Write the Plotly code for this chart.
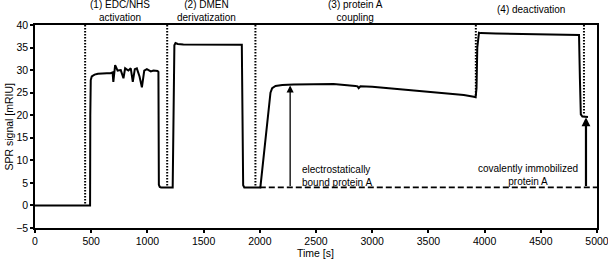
import plotly.graph_objects as go

# ---- data ----
time_s = [0, 490, 492, 496, 505, 530, 560, 600, 640, 672, 690, 697, 705, 713, 735,
          763, 787, 802, 831, 852, 870, 888, 906, 930, 951, 972, 995, 1030, 1054,
          1090, 1098, 1102, 1110, 1122, 1225, 1232, 1240, 1250, 1270, 1320, 1500,
          1700, 1840, 1846, 1852, 1862, 2005, 2095, 2110, 2140, 2200, 2300, 2500,
          2656, 2850, 2870, 2880, 2895, 3000, 3253, 3500, 3700, 3815, 3904, 3920,
          3928, 3935, 3950, 3965, 4100, 4400, 4700, 4840, 4848, 4856, 4870, 4920]
signal = [0.0, 0.0, 20.0, 27.8, 28.6, 29.0, 29.2, 29.3, 29.3, 29.3, 29.5, 27.4,
          30.4, 31.1, 29.9, 30.0, 28.2, 30.4, 29.9, 30.4, 27.4, 30.2, 30.4, 28.6,
          26.2, 29.9, 30.2, 29.7, 29.9, 29.8, 29.6, 4.6, 4.1, 4.0, 4.0, 20.0, 35.5,
          36.0, 35.8, 35.7, 35.7, 35.6, 35.6, 20.0, 4.5, 4.0, 4.0, 25.0, 26.0, 26.5,
          26.7, 26.8, 26.9, 26.9, 26.5, 26.4, 26.0, 26.4, 26.3, 25.7, 25.2, 24.8,
          24.5, 24.1, 24.0, 26.0, 35.0, 38.3, 38.2, 38.1, 38.0, 37.9, 37.8, 28.0,
          20.2, 19.7, 19.6]

baseline_level = 4.0
baseline_t = [2000, 5000]

step_times = [446, 1176, 1961, 3922, 4884]
step_bottoms = [0.0, 4.0, 4.0, 24.0, 20.0]

step_labels = ["(1) EDC/NHS<br>activation", "(2) DMEN<br>derivatization",
               "(3) protein A<br>coupling", "(4) deactivation"]
step_label_x = [757, 1530, 2850, 4410]

arrow_x = [2270, 4902]
arrow_top = [26.6, 19.5]

FONT = "Liberation Sans, Arial, sans-serif"

fig = go.Figure()

# dotted step markers
for tx, yb in zip(step_times, step_bottoms):
    fig.add_trace(go.Scatter(x=[tx, tx], y=[40, yb], mode="lines",
                             line=dict(color="black", width=2, dash="1.5px,1.5px"),
                             hoverinfo="skip", showlegend=False))

# dashed baseline
fig.add_trace(go.Scatter(x=baseline_t, y=[baseline_level, baseline_level], mode="lines",
                         line=dict(color="black", width=1.6, dash="6px,3px"),
                         hoverinfo="skip", showlegend=False))

# SPR signal
fig.add_trace(go.Scatter(x=time_s, y=signal, mode="lines",
                         line=dict(color="black", width=2),
                         showlegend=False))

annotations = []
# arrows
for ax_, top, w in zip(arrow_x, arrow_top, [1.3, 2.2]):
    annotations.append(dict(x=ax_, y=top, ax=ax_, ay=baseline_level,
                            xref="x", yref="y", axref="x", ayref="y",
                            showarrow=True, arrowhead=2, arrowsize=1.1 if w < 2 else 0.8,
                            arrowwidth=w, arrowcolor="black", text=""))

# step labels (top)
for txt, lx in zip(step_labels, step_label_x):
    two = "<br>" in txt
    annotations.append(dict(x=lx, y=(228 - (11 if two else 9)) / 203, xref="x", yref="paper",
                            text=txt, showarrow=False, xanchor="center", yanchor="middle",
                            font=dict(family=FONT, size=10, color="black")))

annotations.append(dict(x=2360, y=6.5, xref="x", yref="y",
                        text="electrostatically<br>bound protein A", showarrow=False,
                        xanchor="left", yanchor="middle", align="left",
                        font=dict(family=FONT, size=10, color="black")))
annotations.append(dict(x=4385, y=6.85, xref="x", yref="y",
                        text="covalently immobilized<br>protein A", showarrow=False,
                        xanchor="center", yanchor="middle", align="center",
                        font=dict(family=FONT, size=10, color="black")))

# axis titles
annotations.append(dict(x=(8 - 35) / 562, y=0.5, xref="paper", yref="paper",
                        text="SPR signal [mRIU]", textangle=-90, showarrow=False,
                        xanchor="center", yanchor="middle",
                        font=dict(family=FONT, size=10.5, color="black")))
annotations.append(dict(x=(315 - 35) / 562, y=(228 - 253) / 203, xref="paper", yref="paper",
                        text="Time [s]", showarrow=False,
                        xanchor="center", yanchor="middle",
                        font=dict(family=FONT, size=10.5, color="black")))

fig.update_layout(
    width=608, height=263,
    margin=dict(l=35, r=11, t=25, b=35),
    paper_bgcolor="white", plot_bgcolor="white",
    font=dict(family=FONT, size=10.5, color="black"),
    annotations=annotations,
    showlegend=False,
)
fig.update_xaxes(range=[0, 5000], tick0=0, dtick=500, showgrid=False, zeroline=False,
                 showline=True, linecolor="black", linewidth=1.5, mirror=True,
                 ticks="outside", ticklen=3, tickwidth=1.5, tickcolor="black", automargin=False,
                 ticklabeloverflow="allow",
                 tickfont=dict(family=FONT, size=10.5, color="black"))
fig.update_yaxes(range=[-5, 40], tick0=-5, dtick=5, showgrid=False, zeroline=False,
                 showline=True, linecolor="black", linewidth=1.5, mirror=True,
                 ticks="outside", ticklen=3, tickwidth=1.5, tickcolor="black", automargin=False,
                 ticklabeloverflow="allow",
                 tickfont=dict(family=FONT, size=10.5, color="black"))

fig.write_html("out.html", config={"displayModeBar": False},
               post_script="document.body.style.margin='0';document.body.style.overflow='hidden';")
